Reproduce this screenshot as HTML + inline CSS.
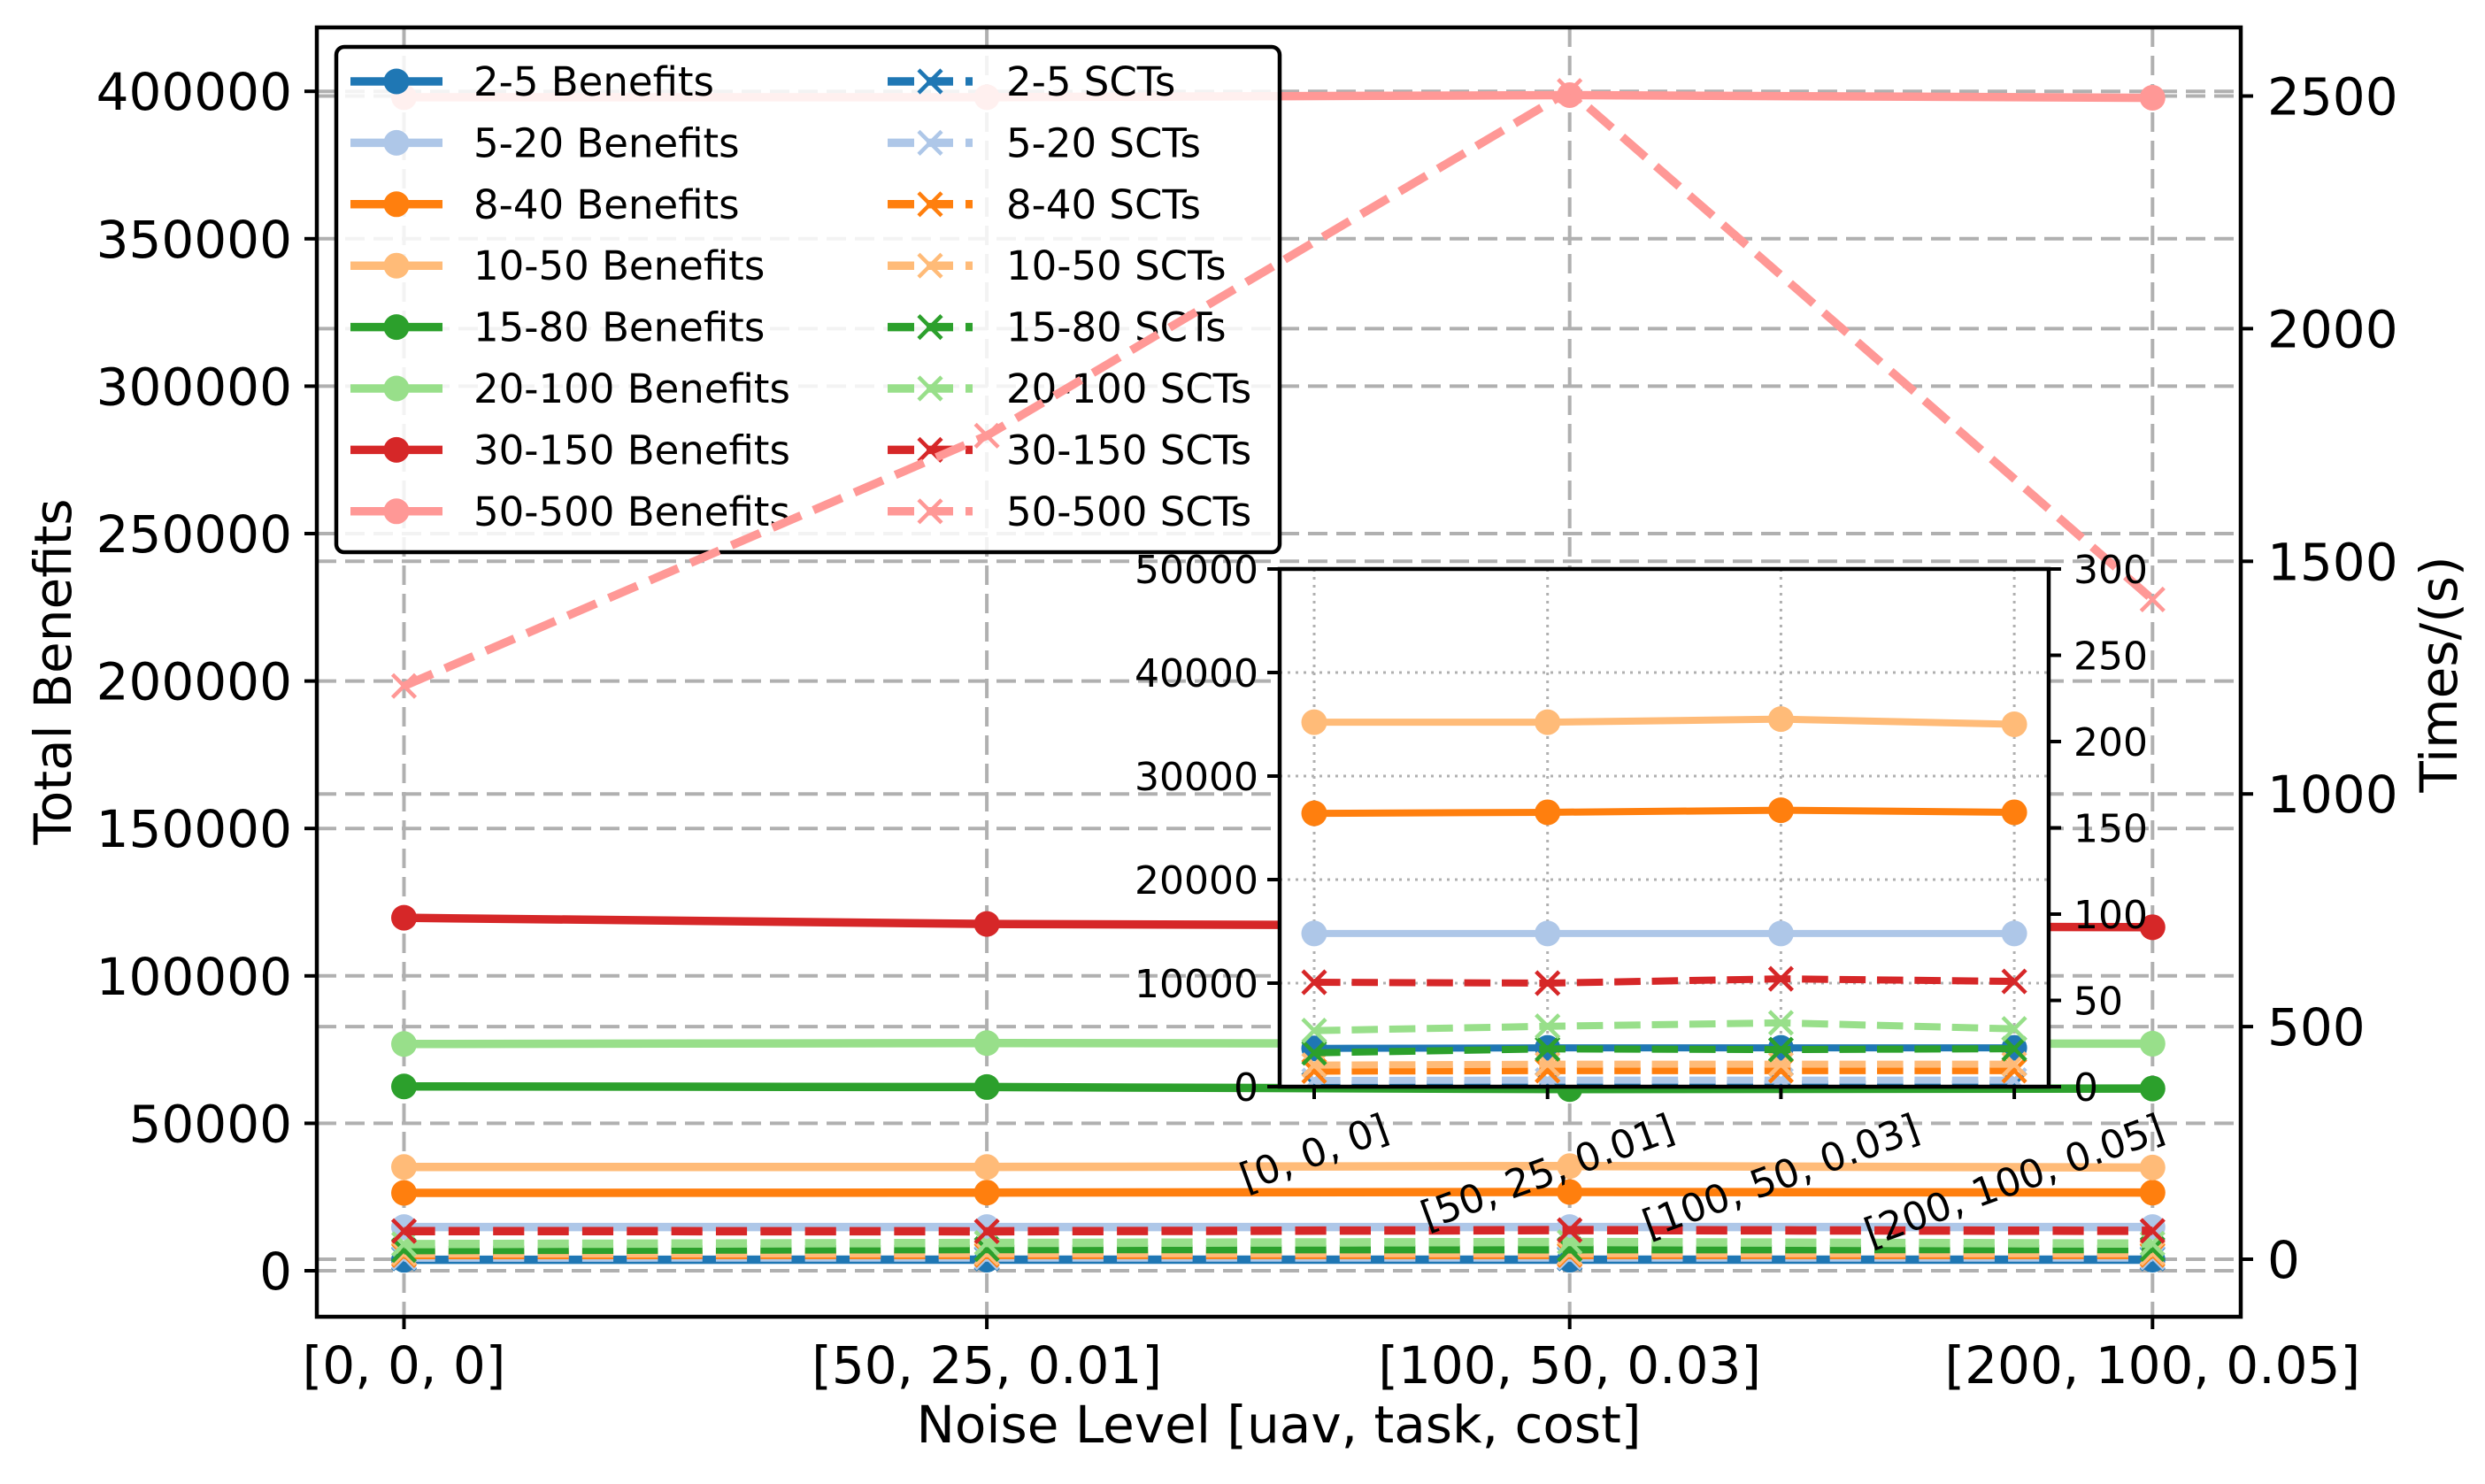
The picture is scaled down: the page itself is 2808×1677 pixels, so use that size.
<!DOCTYPE html>
<html><head><meta charset="utf-8"><style>
html,body{margin:0;padding:0;background:#fff;}
svg{display:block;font-family:"DejaVu Sans","Liberation Sans",sans-serif;}
</style></head><body>
<svg id="chart" width="2808" height="1677" viewBox="0 0 2808 1677" xmlns="http://www.w3.org/2000/svg">
<defs>
<clipPath id="mainClip"><rect x="358" y="31" width="2174" height="1457"/></clipPath>
<clipPath id="insetClip"><rect x="1446" y="643" width="869" height="585"/></clipPath>
</defs>
<rect x="0" y="0" width="2808" height="1677" fill="#fff"/>
<g id="mainGrid"></g>
<g id="mainBen" clip-path="url(#mainClip)"></g>
<g id="legend"></g>
<g id="mainSct" clip-path="url(#mainClip)"></g>
<g id="mainAxes"></g>
<g id="inset"></g>
</svg>
<script>
const categories = ["[0, 0, 0]", "[50, 25, 0.01]", "[100, 50, 0.03]", "[200, 100, 0.05]"];
const groups = ["2-5", "5-20", "8-40", "10-50", "15-80", "20-100", "30-150", "50-500"];
const colors = ["#1f77b4", "#aec7e8", "#ff7f0e", "#ffbb78", "#2ca02c", "#98df8a", "#d62728", "#ff9896"];
const ben25 = [3700, 3750, 3750, 3750];
const ben520 = [14800, 14800, 14800, 14800];
const ben840 = [26400, 26500, 26700, 26500];
const ben1050 = [35200, 35200, 35500, 35000];
const ben1580 = [62500, 62300, 61600, 61800];
const ben20100 = [76900, 77200, 77000, 77000];
const ben30150 = [119700, 117600, 117000, 116500];
const ben50500 = [398000, 398000, 398700, 397800];
const sct25 = [1.5, 1.5, 1.5, 1.5];
const sct520 = [3.6, 3.8, 3.8, 3.8];
const sct840 = [9, 9.3, 9.3, 9.3];
const sct1050 = [12.5, 13, 13, 13];
const sct1580 = [19.6, 21.9, 21.5, 22];
const sct20100 = [32.5, 35, 37, 33.5];
const sct30150 = [60.5, 60, 62.5, 61];
const sct50500 = [1232, 1770, 2511, 1418];
const leftTicks = [0, 50000, 100000, 150000, 200000, 250000, 300000, 350000, 400000];
const rightTicks = [0, 500, 1000, 1500, 2000, 2500];
const insetLeftTicks = [0, 10000, 20000, 30000, 40000, 50000];
const insetRightTicks = [0, 50, 100, 150, 200, 250, 300];

const benefits = [ben25, ben520, ben840, ben1050, ben1580, ben20100, ben30150, ben50500];
const scts = [sct25, sct520, sct840, sct1050, sct1580, sct20100, sct30150, sct50500];

const NS = "http://www.w3.org/2000/svg";
function mk(tag, attrs, parent) {
  const e = document.createElementNS(NS, tag);
  for (const k in attrs) e.setAttribute(k, attrs[k]);
  parent.appendChild(e);
  return e;
}
const xMain = i => 456.5 + i * 658.6;
const yL = v => 1436 - v * 166.6 / 50000;
const yR = v => 1423 - v * 262.9 / 500;
const xIn = i => 1485 + i * 263.7;
const yIL = v => 1228 - v * 585 / 50000;
const yIR = v => 1228 - v * 585 / 300;

const GRID = "#b0b0b0";
const mainGrid = document.getElementById("mainGrid");
categories.forEach((c, i) => {
  const g = mk("line", {x1: xMain(i), x2: xMain(i), y1: 31, y2: 1488, stroke: GRID, "stroke-width": 4, "stroke-dasharray": "22 10"}, mainGrid);
  
  
});
leftTicks.forEach(t => {
  const g = mk("line", {x1: 358, x2: 2532, y1: yL(t), y2: yL(t), stroke: GRID, "stroke-width": 4, "stroke-dasharray": "22 10"}, mainGrid);
  
  
});
rightTicks.forEach(t => {
  const g = mk("line", {x1: 358, x2: 2532, y1: yR(t), y2: yR(t), stroke: GRID, "stroke-width": 4, "stroke-dasharray": "22 10"}, mainGrid);
  
  
});

function drawCircle(parent, x, y, r, col) {
  const c = mk("circle", {cx: x, cy: y, r: r, fill: col}, parent);
  
  
}
function drawX(parent, x, y, s, col, w) {
  const p = mk("path", {d: `M${x-s},${y-s}L${x+s},${y+s}M${x-s},${y+s}L${x+s},${y-s}`, stroke: col, "stroke-width": w, fill: "none"}, parent);
  
  
}
function series(parent, vals, xs, ys, col, lw, dashed, name) {
  const g = mk("g", {}, parent);
  
  
  const pts = vals.map((v, i) => xs(i) + "," + ys(v)).join(" ");
  const attrs = {points: pts, fill: "none", stroke: col, "stroke-width": lw, "stroke-linejoin": "round"};
  if (dashed) attrs["stroke-dasharray"] = (lw * 3.7) + " " + (lw * 1.6);
  mk("polyline", attrs, g);
  vals.forEach((v, i) => {
    if (dashed) drawX(g, xs(i), ys(v), 13, col, 4.5);
    else drawCircle(g, xs(i), ys(v), 14.5, col);
  });
}

const mainBen = document.getElementById("mainBen");
benefits.forEach((b, k) => series(mainBen, b, xMain, yL, colors[k], 9.5, false, groups[k] + "-benefits-line"));
const mainSct = document.getElementById("mainSct");
scts.forEach((s, k) => series(mainSct, s, xMain, yR, colors[k], 9.5, true, groups[k] + "-scts-line"));

const leg = document.getElementById("legend");


mk("rect", {x: 380, y: 53, width: 1066, height: 571, rx: 9, fill: "#fff", "fill-opacity": 0.85, stroke: "#000", "stroke-width": 4.5}, leg);
groups.forEach((gname, k) => {
  const cy = 92 + k * 69.4;
  const e1 = mk("g", {}, leg);
  
  
  mk("line", {x1: 396, x2: 500, y1: cy, y2: cy, stroke: colors[k], "stroke-width": 9.5}, e1);
  mk("circle", {cx: 448, cy: cy, r: 14.5, fill: colors[k]}, e1);
  const t1 = mk("text", {x: 535, y: cy + 16, "font-size": 45, fill: "#000"}, e1);
  t1.textContent = gname + " Benefits";
  const e2 = mk("g", {}, leg);
  
  
  mk("line", {x1: 1003, x2: 1099, y1: cy, y2: cy, stroke: colors[k], "stroke-width": 9.5, "stroke-dasharray": "30 14"}, e2);
  const s = 13;
  mk("path", {d: `M${1051-s},${cy-s}L${1051+s},${cy+s}M${1051-s},${cy+s}L${1051+s},${cy-s}`, stroke: colors[k], "stroke-width": 4.5, fill: "none"}, e2);
  const t2 = mk("text", {x: 1137, y: cy + 16, "font-size": 45, fill: "#000"}, e2);
  t2.textContent = gname + " SCTs";
});

const ax = document.getElementById("mainAxes");
const frame = mk("rect", {x: 358, y: 31, width: 2174, height: 1457, fill: "none", stroke: "#000", "stroke-width": 4.5}, ax);


categories.forEach((c, i) => {
  mk("line", {x1: xMain(i), x2: xMain(i), y1: 1488, y2: 1502, stroke: "#000", "stroke-width": 4}, ax);
  const t = mk("text", {x: xMain(i), y: 1563, "font-size": 58, "text-anchor": "middle"}, ax);
  t.textContent = c;
  
  
});
leftTicks.forEach(v => {
  mk("line", {x1: 344, x2: 358, y1: yL(v), y2: yL(v), stroke: "#000", "stroke-width": 4}, ax);
  const t = mk("text", {x: 330, y: yL(v) + 21, "font-size": 58, "text-anchor": "end"}, ax);
  t.textContent = v;
  
  
});
rightTicks.forEach(v => {
  mk("line", {x1: 2532, x2: 2546, y1: yR(v), y2: yR(v), stroke: "#000", "stroke-width": 4}, ax);
  const t = mk("text", {x: 2562, y: yR(v) + 21, "font-size": 58}, ax);
  t.textContent = v;
  
  
});
const xl = mk("text", {x: 1445, y: 1630, "font-size": 58, "text-anchor": "middle"}, ax);
xl.textContent = "Noise Level [uav, task, cost]";


const yl = mk("text", {x: 0, y: 0, "font-size": 58, "text-anchor": "middle", transform: "translate(80,759) rotate(-90)"}, ax);
yl.textContent = "Total Benefits";


const yr = mk("text", {x: 0, y: 0, "font-size": 58, "text-anchor": "middle", transform: "translate(2776,762) rotate(-90)"}, ax);
yr.textContent = "Times/(s)";



const ins = document.getElementById("inset");


mk("rect", {x: 1446, y: 643, width: 869, height: 585, fill: "#fff"}, ins);
const ig = mk("g", {}, ins);
categories.forEach((c, i) => {
  const g = mk("line", {x1: xIn(i), x2: xIn(i), y1: 643, y2: 1228, stroke: GRID, "stroke-width": 3, "stroke-dasharray": "3 6"}, ig);
  
  
});
insetLeftTicks.forEach(v => {
  const g = mk("line", {x1: 1446, x2: 2315, y1: yIL(v), y2: yIL(v), stroke: GRID, "stroke-width": 3, "stroke-dasharray": "3 6"}, ig);
  
  
});
const ic = mk("g", {"clip-path": "url(#insetClip)"}, ins);
benefits.forEach((b, k) => series(ic, b, xIn, yIL, colors[k], 8, false, "inset-" + groups[k] + "-benefits-line"));
scts.forEach((s, k) => series(ic, s, xIn, yIR, colors[k], 8, true, "inset-" + groups[k] + "-scts-line"));
mk("rect", {x: 1446, y: 643, width: 869, height: 585, fill: "none", stroke: "#000", "stroke-width": 4.5}, ins);
insetLeftTicks.forEach(v => {
  mk("line", {x1: 1432, x2: 1446, y1: yIL(v), y2: yIL(v), stroke: "#000", "stroke-width": 4}, ins);
  const t = mk("text", {x: 1422, y: yIL(v) + 16, "font-size": 44, "text-anchor": "end"}, ins);
  t.textContent = v;
  
  
});
insetRightTicks.forEach(v => {
  mk("line", {x1: 2315, x2: 2329, y1: yIR(v), y2: yIR(v), stroke: "#000", "stroke-width": 4}, ins);
  const t = mk("text", {x: 2343, y: yIR(v) + 16, "font-size": 44}, ins);
  t.textContent = v;
  
  
});
const ang = 20 * Math.PI / 180;
categories.forEach((c, i) => {
  mk("line", {x1: xIn(i), x2: xIn(i), y1: 1228, y2: 1242, stroke: "#000", "stroke-width": 4}, ins);
  const t = mk("text", {x: 0, y: 0, "font-size": 44, "text-anchor": "middle", "dominant-baseline": "central"}, ins);
  t.textContent = c;
  
  
  const w = t.getComputedTextLength() || c.length * 22;
  const h = 50;
  const cy = 1250 + (w * Math.sin(ang) + h * Math.cos(ang)) / 2;
  t.setAttribute("transform", `translate(${xIn(i)},${cy}) rotate(-20)`);
});
</script>
</body></html>
